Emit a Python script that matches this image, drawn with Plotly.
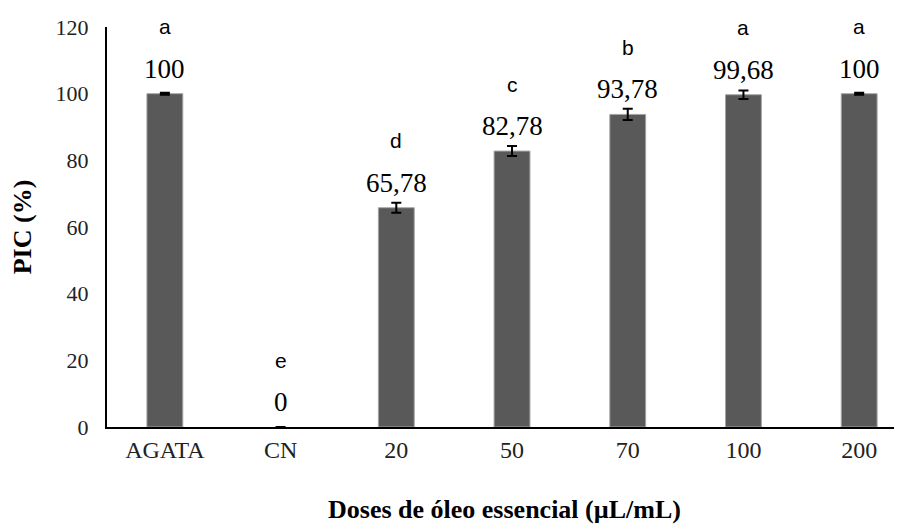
import plotly.graph_objects as go

categories = ["AGATA", "CN", "20", "50", "70", "100", "200"]
pic_values = [100, 0, 65.78, 82.78, 93.78, 99.68, 100]
value_labels = ["100", "0", "65,78", "82,78", "93,78", "99,68", "100"]
error_values = [0.3, None, 1.5, 1.5, 1.7, 1.3, 0.3]
letters = ["a", "e", "d", "c", "b", "a", "a"]
y_ticks = [0, 20, 40, 60, 80, 100, 120]

outline_widths = [1 if v > 0 else 0 for v in pic_values]

fig = go.Figure()
fig.add_trace(go.Bar(
    x=categories, y=pic_values, width=0.31,
    marker=dict(color="#595959", line=dict(color="#a6a6a6", width=outline_widths)),
    error_y=dict(type="data", array=error_values, visible=True,
                 color="black", thickness=2, width=5),
    hoverinfo="skip",
))

for i, (v, lab, let) in enumerate(zip(pic_values, value_labels, letters)):
    fig.add_annotation(x=i, y=v, text=lab, showarrow=False, yshift=25,
                       yanchor="middle",
                       font=dict(family="Liberation Serif", size=27, color="black"))
    fig.add_annotation(x=i, y=v, text=let, showarrow=False, yshift=67,
                       yanchor="middle",
                       font=dict(family="Liberation Sans", size=21, color="black"))

fig.update_layout(
    width=894, height=519,
    margin=dict(l=99, r=0, t=19, b=100, autoexpand=False),
    plot_bgcolor="white", paper_bgcolor="white",
    showlegend=False,
    font=dict(family="Liberation Serif", color="black"),
    xaxis=dict(
        type="category",
        range=[-0.5, 6.37], showline=True, linecolor="black", linewidth=2,
        ticks="", showgrid=False, zeroline=False,
        tickfont=dict(family="Liberation Serif", size=24, color="#222"),
        title=dict(text="<b>Doses de óleo essencial (µL/mL)</b>",
                   font=dict(family="Liberation Serif", size=26, color="black"),
                   standoff=38),
    ),
    yaxis=dict(
        range=[0, 120], tickvals=y_ticks, showline=True, linecolor="black",
        linewidth=2, ticks="", showgrid=False, zeroline=False,
        tickfont=dict(family="Liberation Serif", size=22, color="#222"),
        ticklabelstandoff=12,
        title=dict(text="<b>PIC (%)</b>",
                   font=dict(family="Liberation Serif", size=26, color="black"),
                   standoff=26),
    ),
)

fig.write_html("out.html")
